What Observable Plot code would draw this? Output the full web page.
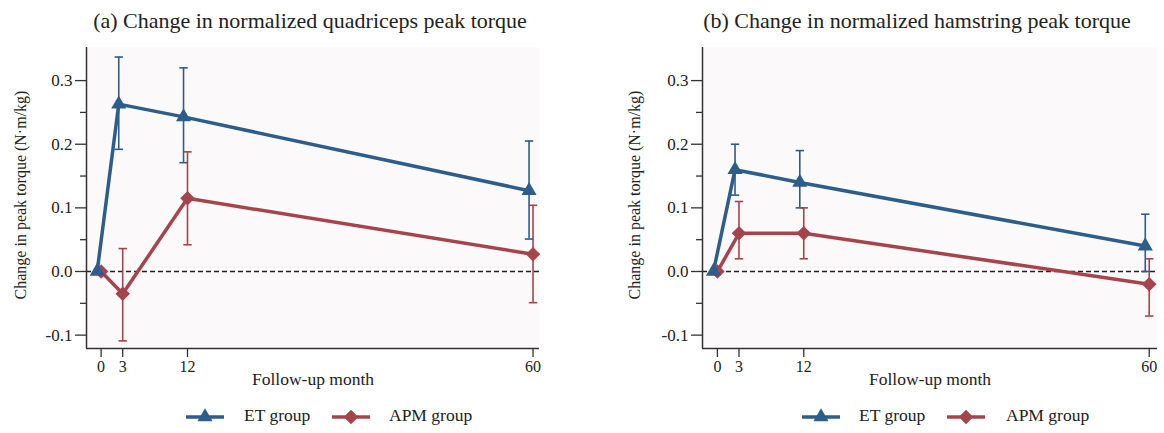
<!DOCTYPE html>
<html>
<head>
<meta charset="utf-8">
<script src="https://cdn.jsdelivr.net/npm/d3@7"></script>
<script src="https://cdn.jsdelivr.net/npm/@observablehq/plot@0.6"></script>
<style>
  body { margin: 0; background: #fff; font-family: "Liberation Serif", "Times New Roman", serif; color: #222; }
  #fig { position: relative; width: 1164px; height: 433px; overflow: hidden; }
  .abs { position: absolute; white-space: nowrap; line-height: 1; }
  .title { font-size: 22px; transform: translateX(-50%); }
  .leg { font-size: 17.5px; }
</style>
</head>
<body>
<div id="fig"></div>
<script>
// ---- data ----
const months = [0, 3, 12, 60];
const groups = ["ET group", "APM group"];
const titles = ["(a) Change in normalized quadriceps peak torque", "(b) Change in normalized hamstring peak torque"];
const yLabel = "Change in peak torque (N·m/kg)";
const xLabel = "Follow-up month";
const yTicks = [-0.1, 0, 0.1, 0.2, 0.3];
const yMinorTicks = [-0.05, 0.05, 0.15, 0.25];
const xTicks = [0, 3, 12, 60];

const quadET     = [0, 0.263, 0.243, 0.127];
const quadETLow  = [null, 0.192, 0.171, 0.051];
const quadETHigh = [null, 0.337, 0.320, 0.205];
const quadAPM     = [0, -0.035, 0.115, 0.027];
const quadAPMLow  = [null, -0.109, 0.042, -0.049];
const quadAPMHigh = [null, 0.036, 0.188, 0.104];

const hamET     = [0, 0.16, 0.14, 0.04];
const hamETLow  = [null, 0.12, 0.10, 0.00];
const hamETHigh = [null, 0.20, 0.19, 0.09];
const hamAPM     = [0, 0.06, 0.06, -0.02];
const hamAPMLow  = [null, 0.02, 0.02, -0.07];
const hamAPMHigh = [null, 0.11, 0.10, 0.02];

// ---- styling ----
const BLUE = "#2c5d8b";
const RED = "#a6444c";
const AXIS = "#333";
const ET_SHIFT = -0.55; // horizontal offset of ET markers (months)
const Y_DOMAIN = [-0.121, 0.352];

const capSymbol = { draw(ctx) { ctx.moveTo(-4.2, 0); ctx.lineTo(4.2, 0); } };

function buildRows(et, etLo, etHi, apm, apmLo, apmHi) {
  const rows = [];
  months.forEach((m, i) => {
    rows.push({ group: groups[0], month: m, x: m + ET_SHIFT, v: et[i], lo: etLo[i], hi: etHi[i] });
  });
  months.forEach((m, i) => {
    rows.push({ group: groups[1], month: m, x: m, v: apm[i], lo: apmLo[i], hi: apmHi[i] });
  });
  return rows;
}

function panel(rows, { marginLeft, marginRight, xDomain, yLabelX }) {
  const bars = rows.filter(d => d.lo != null);
  const et = rows.filter(d => d.group === groups[0]);
  const apm = rows.filter(d => d.group === groups[1]);
  return Plot.plot({
    width: 582,
    height: 362,
    marginLeft, marginRight,
    marginTop: 9,
    marginBottom: 52,
    style: { fontFamily: "Liberation Serif", fontSize: "17px", color: AXIS, background: "transparent", overflow: "visible" },
    x: { domain: xDomain, label: null },
    y: { domain: Y_DOMAIN, label: null },
    color: { domain: groups, range: [BLUE, RED] },
    marks: [
      Plot.frame({ fill: "#fcf9fb", stroke: null }),
      Plot.ruleY([0], { stroke: "#222", strokeWidth: 1.3, strokeDasharray: "5,3" }),
      Plot.axisY({ ticks: yMinorTicks, tickSize: 6, tickFormat: () => "", label: null, strokeWidth: 1.3 }),
      Plot.axisY({ ticks: yTicks, tickSize: 11, tickPadding: 3, tickFormat: d => d.toFixed(1), label: null, strokeWidth: 1.3, fontSize: 17, fill: "#222" }),
      Plot.axisX({ ticks: xTicks, tickSize: 9, tickPadding: 3, tickFormat: d => String(d), label: null, strokeWidth: 1.3, fontSize: 16, fill: "#222" }),
      Plot.ruleX([xDomain[0]], { stroke: AXIS, strokeWidth: 1.5 }),
      Plot.ruleY([Y_DOMAIN[0]], { stroke: AXIS, strokeWidth: 1.5 }),
      Plot.text([yLabel], { frameAnchor: "left", textAnchor: "middle", lineAnchor: "middle", dx: yLabelX - marginLeft, dy: -3, rotate: -90, fontSize: 16, fill: "#222" }),
      Plot.text([xLabel], { frameAnchor: "bottom", dy: 36, fontSize: 17.5, fill: "#222" }),
      // error bars
      Plot.ruleX(bars, { x: "x", y1: "lo", y2: "hi", stroke: "group", strokeWidth: 1.6 }),
      Plot.dot(bars, { x: "x", y: "lo", symbol: capSymbol, stroke: "group", strokeWidth: 1.6, r: 4 }),
      Plot.dot(bars, { x: "x", y: "hi", symbol: capSymbol, stroke: "group", strokeWidth: 1.6, r: 4 }),
      // APM
      Plot.line(apm, { x: "x", y: "v", stroke: "group", strokeWidth: 3.5 }),
      Plot.dot(apm, { x: "x", y: "v", symbol: "square", rotate: 45, r: 5.8, fill: "group", stroke: null }),
      // ET
      Plot.line(et, { x: "x", y: "v", stroke: "group", strokeWidth: 3.5 }),
      Plot.dot(et, { x: "x", y: "v", symbol: "triangle", r: 5.6, fill: "group", stroke: null })
    ]
  });
}

const fig = document.getElementById("fig");

function place(el, left, top) {
  el.style.position = "absolute";
  el.style.left = left + "px";
  el.style.top = top + "px";
  fig.appendChild(el);
}

const left = panel(buildRows(quadET, quadETLow, quadETHigh, quadAPM, quadAPMLow, quadAPMHigh),
  { marginLeft: 86, marginRight: 43, xDomain: [-2.03, 60.9], yLabelX: 20.5 });
const right = panel(buildRows(hamET, hamETLow, hamETHigh, hamAPM, hamAPMLow, hamAPMHigh),
  { marginLeft: 120, marginRight: 7, xDomain: [-2.07, 61.15], yLabelX: 52 });
place(left, 0, 38);
place(right, 582, 38);

function addTitle(text, cx) {
  const d = document.createElement("div");
  d.className = "abs title";
  d.textContent = text;
  place(d, cx, 10);
}
addTitle(titles[0], 310);
addTitle(titles[1], 917);

function swatch(color, kind) {
  const ns = "http://www.w3.org/2000/svg";
  const svg = document.createElementNS(ns, "svg");
  svg.setAttribute("width", 40);
  svg.setAttribute("height", 20);
  const line = document.createElementNS(ns, "line");
  line.setAttribute("x1", 1); line.setAttribute("x2", 39);
  line.setAttribute("y1", 10); line.setAttribute("y2", 10);
  line.setAttribute("stroke", color); line.setAttribute("stroke-width", 3.5);
  svg.appendChild(line);
  const p = document.createElementNS(ns, "path");
  if (kind === "triangle") {
    p.setAttribute("d", d3.symbol(d3.symbolTriangle, Math.PI * 5.6 * 5.6)());
    p.setAttribute("transform", "translate(20,10)");
  } else {
    p.setAttribute("d", d3.symbol(d3.symbolSquare, Math.PI * 5.8 * 5.8)());
    p.setAttribute("transform", "translate(20,10) rotate(45)");
  }
  p.setAttribute("fill", color);
  svg.appendChild(p);
  return svg;
}
function addLegend(etLine, etText, apmLine, apmText) {
  place(swatch(BLUE, "triangle"), etLine - 1, 406.7);
  place(swatch(RED, "diamond"), apmLine - 1, 406.7);
  const a = document.createElement("div"); a.className = "abs leg"; a.textContent = groups[0];
  place(a, etText, 407.3);
  const b = document.createElement("div"); b.className = "abs leg"; b.textContent = groups[1];
  place(b, apmText, 407.3);
}
addLegend(186, 244, 332, 389);
addLegend(802, 859, 947, 1006);
</script>
</body>
</html>
